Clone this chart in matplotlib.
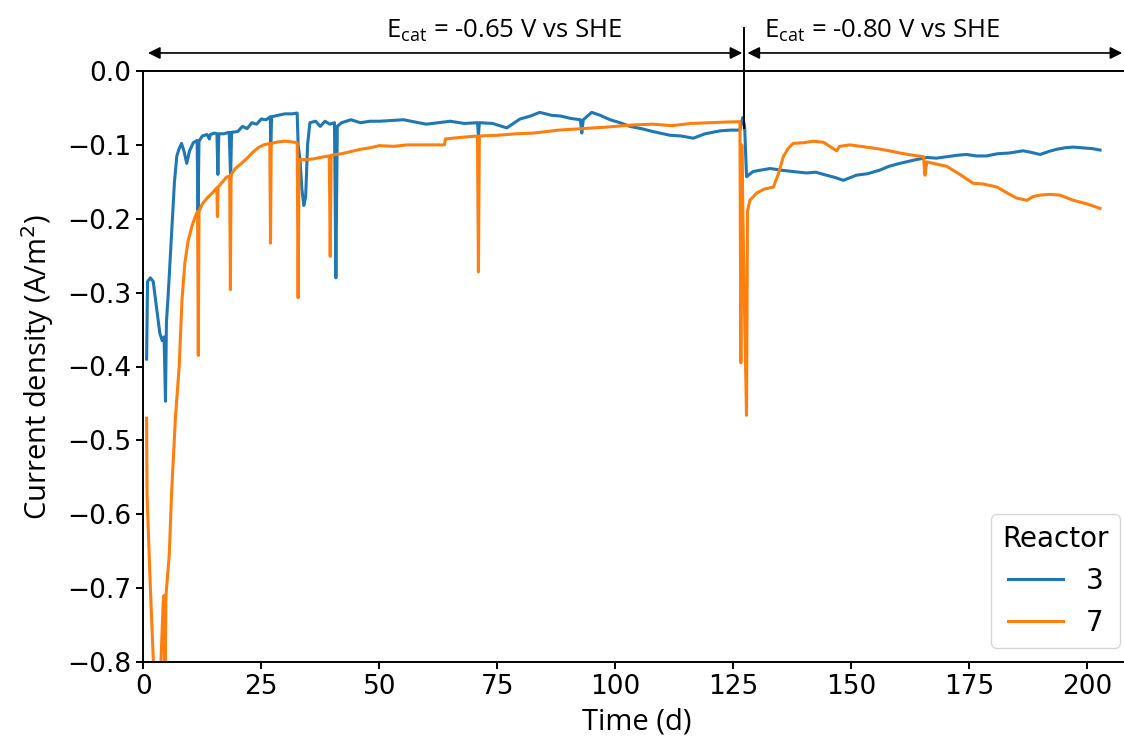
import matplotlib
matplotlib.use("Agg")
import matplotlib.pyplot as plt

# reactor 3 (blue)
t_r3 = [0.7, 0.9, 1.5, 2.1, 2.8, 3.5, 4.0, 4.4, 4.7, 4.9, 5.3, 6.0, 6.6, 7.1, 7.6, 8.1, 8.6,
        9.2, 9.8, 10.6, 11.4, 11.6, 11.8, 12.5, 13.5, 14.0, 14.2, 15.0, 15.6, 15.8, 16.0, 17.0,
        18.2, 18.5, 18.7, 20.0, 21.0, 22.0, 23.0, 24.0, 25.0, 26.0, 26.9, 27.0, 27.2, 28.5,
        30.0, 31.5, 32.6, 32.8, 33.2, 33.6, 34.0, 34.4, 34.8, 35.3, 36.5, 37.5, 38.5, 39.5,
        40.5, 40.8, 41.1, 42.0, 44.0, 46.0, 48.0, 50.0, 52.5, 55.1, 57.5, 60.0, 62.5, 65.0,
        68.0, 70.8, 71.0, 71.2, 74.0, 77.0, 79.8, 82.0, 84.0, 86.5, 88.5, 90.4, 92.6, 92.9,
        93.2, 95.0, 96.8, 98.9, 101.0, 103.1, 105.5, 108.0, 111.6, 114.0, 116.5, 119.0,
        122.2, 124.5, 126.4, 127.0, 127.4, 127.8, 129.2, 131.0, 132.8, 134.9, 137.5, 140.5,
        142.5, 144.1, 146.5, 148.3, 151.1, 153.5, 156.1, 158.0, 160.3, 163.0, 166.0, 168.0,
        170.2, 172.5, 174.4, 176.5, 178.6, 181.0, 183.5, 186.4, 188.0, 190.0, 191.8, 193.5,
        195.2, 197.0, 199.0, 201.0, 202.7]
j_r3 = [-0.39, -0.285, -0.28, -0.285, -0.32, -0.355, -0.365, -0.36, -0.447, -0.34, -0.30,
        -0.22, -0.15, -0.115, -0.105, -0.098, -0.108, -0.125, -0.108, -0.097, -0.094, -0.19,
        -0.095, -0.088, -0.086, -0.092, -0.086, -0.084, -0.085, -0.14, -0.085, -0.085, -0.083,
        -0.145, -0.083, -0.082, -0.075, -0.078, -0.070, -0.072, -0.065, -0.066, -0.062,
        -0.100, -0.062, -0.060, -0.058, -0.058, -0.057, -0.100, -0.120, -0.160, -0.182,
        -0.170, -0.100, -0.070, -0.068, -0.075, -0.068, -0.072, -0.070, -0.280, -0.075,
        -0.070, -0.066, -0.070, -0.068, -0.068, -0.067, -0.066, -0.069, -0.072, -0.070,
        -0.068, -0.071, -0.070, -0.087, -0.070, -0.071, -0.077, -0.065, -0.061, -0.056,
        -0.060, -0.061, -0.064, -0.066, -0.084, -0.066, -0.056, -0.060, -0.066, -0.070,
        -0.075, -0.078, -0.082, -0.087, -0.088, -0.091, -0.085, -0.081, -0.080, -0.080,
        -0.063, -0.075, -0.143, -0.136, -0.134, -0.132, -0.134, -0.136, -0.138, -0.137,
        -0.140, -0.144, -0.148, -0.141, -0.139, -0.134, -0.129, -0.125, -0.121, -0.117,
        -0.118, -0.116, -0.114, -0.113, -0.115, -0.115, -0.112, -0.111, -0.108, -0.110,
        -0.113, -0.109, -0.106, -0.104, -0.103, -0.104, -0.105, -0.107]

# reactor 7 (orange)
t_r7 = [0.7, 0.8, 1.5, 2.2, 2.8, 3.3, 3.8, 4.2, 4.4, 4.6, 4.8, 5.5, 6.0, 6.8, 7.6, 8.2, 8.8,
        9.5, 10.3, 11.0, 11.5, 11.65, 11.8, 12.5, 13.5, 14.5, 15.6, 15.7, 15.85, 16.8, 17.6,
        18.3, 18.45, 18.6, 19.5, 20.8, 22.0, 23.2, 24.3, 25.5, 26.8, 26.95, 27.1, 28.5, 30.0,
        31.5, 32.6, 32.8, 33.0, 34.5, 36.0, 37.5, 39.4, 39.6, 39.8, 42.0, 44.0, 46.0, 48.0,
        50.0, 53.0, 56.0, 60.0, 63.8, 64.0, 67.0, 70.8, 71.0, 71.2, 75.0, 79.0, 82.7, 88.0,
        93.0, 98.0, 103.7, 108.0, 112.0, 116.0, 120.0, 124.0, 126.4, 126.6, 126.8, 127.3,
        127.8, 128.0, 128.5, 130.0, 131.5, 133.5, 134.5, 135.6, 136.6, 137.7, 140.0, 142.0,
        144.1, 146.9, 147.5, 149.7, 152.0, 155.4, 158.0, 160.3, 163.0, 165.3, 165.6, 166.0,
        168.0, 170.2, 173.0, 175.8, 178.0, 180.8, 183.0, 185.0, 187.2, 188.5, 190.0, 192.0,
        194.2, 197.0, 200.0, 202.7]
j_r7 = [-0.47, -0.575, -0.70, -0.81, -0.87, -0.86, -0.79, -0.72, -0.71, -0.84, -0.71, -0.655,
        -0.57, -0.47, -0.40, -0.31, -0.26, -0.23, -0.21, -0.197, -0.19, -0.385, -0.19, -0.18,
        -0.172, -0.166, -0.158, -0.197, -0.157, -0.150, -0.144, -0.142, -0.296, -0.140,
        -0.132, -0.125, -0.118, -0.110, -0.104, -0.100, -0.098, -0.233, -0.098, -0.096,
        -0.095, -0.096, -0.097, -0.307, -0.120, -0.120, -0.119, -0.117, -0.115, -0.251,
        -0.114, -0.112, -0.109, -0.106, -0.104, -0.101, -0.102, -0.100, -0.100, -0.100,
        -0.092, -0.090, -0.088, -0.272, -0.088, -0.087, -0.085, -0.084, -0.080, -0.078,
        -0.076, -0.073, -0.072, -0.074, -0.071, -0.070, -0.069, -0.0686, -0.395, -0.100,
        -0.300, -0.466, -0.190, -0.175, -0.165, -0.160, -0.157, -0.140, -0.116, -0.105,
        -0.098, -0.097, -0.095, -0.0965, -0.108, -0.102, -0.100, -0.102, -0.105, -0.108,
        -0.111, -0.114, -0.116, -0.141, -0.123, -0.126, -0.129, -0.140, -0.152, -0.153,
        -0.157, -0.165, -0.172, -0.175, -0.170, -0.168, -0.167, -0.168, -0.175, -0.180,
        -0.186]

reactors = ['3', '7']
colors = ['#1f77b4', '#ff7f0e']
switch_day = 127.3
phase_labels = [r'E$_\mathregular{cat}$ = -0.65 V vs SHE', r'E$_\mathregular{cat}$ = -0.80 V vs SHE']
phase_text_x = [76.4, 156.5]

W, H = 1124, 742
fig = plt.figure(figsize=(W / 100, H / 100), dpi=100)
ax = fig.add_axes([143.3 / W, 80 / H, 986.5 / W, 591 / H])

ax.plot(t_r3, j_r3, color=colors[0], lw=2.2, label=reactors[0])
ax.plot(t_r7, j_r7, color=colors[1], lw=2.2, label=reactors[1])

ax.set_xlim(0, 209)
ax.set_ylim(-0.8, 0.0)
ax.set_xticks([0, 25, 50, 75, 100, 125, 150, 175, 200])
ax.set_yticks([0.0, -0.1, -0.2, -0.3, -0.4, -0.5, -0.6, -0.7, -0.8])
ax.tick_params(labelsize=19, length=5, width=1.4)
for s in ax.spines.values():
    s.set_linewidth(1.4)
ax.spines['right'].set_visible(False)

# axis labels (Calibri-like in the original)
lab_font = ['Open Sans', 'DejaVu Sans']
fig.text(38 / W, 1 - 367 / H, 'Current density (A/m$^2$)', rotation=90, ha='center',
         va='center', fontsize=21, family=lab_font)
fig.text(637 / W, 1 - 722 / H, 'Time (d)', ha='center', va='center', fontsize=21,
         family=lab_font)

# phase annotations above the axes
trans = ax.get_xaxis_transform()
arr = dict(arrowstyle='<|-|>', color='black', lw=1.2, mutation_scale=18, shrinkA=0, shrinkB=0)
ax.annotate('', xy=(1.0, 1.0305), xytext=(switch_day - 0.4, 1.0305), xycoords=trans,
            textcoords=trans, arrowprops=arr, annotation_clip=False)
ax.annotate('', xy=(switch_day + 0.7, 1.0305), xytext=(207.4, 1.0305), xycoords=trans,
            textcoords=trans, arrowprops=arr, annotation_clip=False)
ax.plot([switch_day, switch_day], [0.9036, 1.072], color='black', lw=1.4, transform=trans,
        clip_on=False)
for lbl, xt in zip(phase_labels, phase_text_x):
    ax.text(xt, 1.0575, lbl, transform=trans, ha='center', va='baseline', fontsize=18.5,
            family=lab_font)

leg = ax.legend(title='Reactor', loc='lower right', bbox_to_anchor=(1120 / W, 1 - 648 / H),
                bbox_transform=fig.transFigure, borderaxespad=0, fontsize=20,
                title_fontsize=20, handlelength=2.0)

fig.savefig('out.png', dpi=100)
